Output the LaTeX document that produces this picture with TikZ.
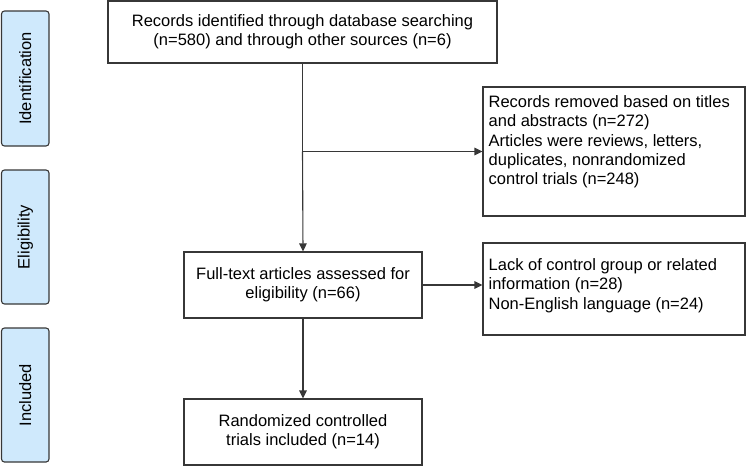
\documentclass[tikz,border=0pt]{standalone}
\usepackage{fontspec}
\setmainfont{Liberation Sans}
\usetikzlibrary{arrows.meta}
\definecolor{sidefill}{RGB}{207,233,252}
\definecolor{lncol}{RGB}{55,55,55}
\begin{document}
\begin{tikzpicture}[x=1pt,y=-1pt,
  every node/.style={font=\fontsize{16.5}{19.3}\selectfont},
  box/.style={draw=lncol,line width=1.1pt,fill=white,inner sep=0pt,align=center},
  frame/.style={draw=lncol,line width=1.1pt,fill=white,inner sep=0pt},
  ltext/.style={inner sep=0pt,align=left,anchor=north west},
  side/.style={draw=lncol,line width=1.1pt,fill=sidefill,rounded corners=3pt},
  conn/.style={draw=lncol,line width=1.1pt,-{Triangle[length=8pt,width=7.5pt]}},
  plain/.style={draw=lncol,line width=1.1pt}]
\useasboundingbox (0,0) rectangle (746,466);
% side labels
\draw[side] (1.5,11) rectangle (49,146);
\node[rotate=90] (sid) at (25.25,78.5) {Identification};
\draw[side] (1.5,170) rectangle (49,304);
\node[rotate=90] (sel) at (25.25,237) {Eligibility};
\draw[side] (1.5,328) rectangle (49,462);
\node[rotate=90] (sinc) at (25.25,395) {Included};
% main boxes
\node[box,minimum width=389pt,minimum height=62pt] (top) at (302.5,32) {Records identified through database searching\\(n=580) and through other sources (n=6)};
\node[frame,minimum width=262pt,minimum height=129pt] (rem) at (614,151.5) {};
\node[ltext] (remtxt) at ([xshift=6pt,yshift=-9pt]rem.north west) {Records removed based on titles\\and abstracts (n=272)\\Articles were reviews, letters,\\duplicates, nonrandomized\\control trials (n=248)};
\node[box,minimum width=238pt,minimum height=66pt] (full) at (303,285) {Full-text articles assessed for\\eligibility (n=66)};
\node[frame,minimum width=262pt,minimum height=92pt] (lack) at (614,289) {};
\node[ltext] (lacktxt) at ([xshift=6pt,yshift=-16pt]lack.north west) {Lack of control group or related\\information (n=28)\\Non-English language (n=24)};
\node[box,minimum width=238pt,minimum height=66pt] (rct) at (303,432) {Randomized controlled\\trials included (n=14)};
% connectors
\coordinate (j) at (top.south |- rem.west);
\draw[plain] (top.south) -- (j);
\draw[conn] (j) -- (full.north);
\draw[conn] (j) -- (rem.west);
\draw[conn] (full.east) -- (full.east -| lack.west);
\draw[conn] (full.south) -- (rct.north);
\end{tikzpicture}
\end{document}
